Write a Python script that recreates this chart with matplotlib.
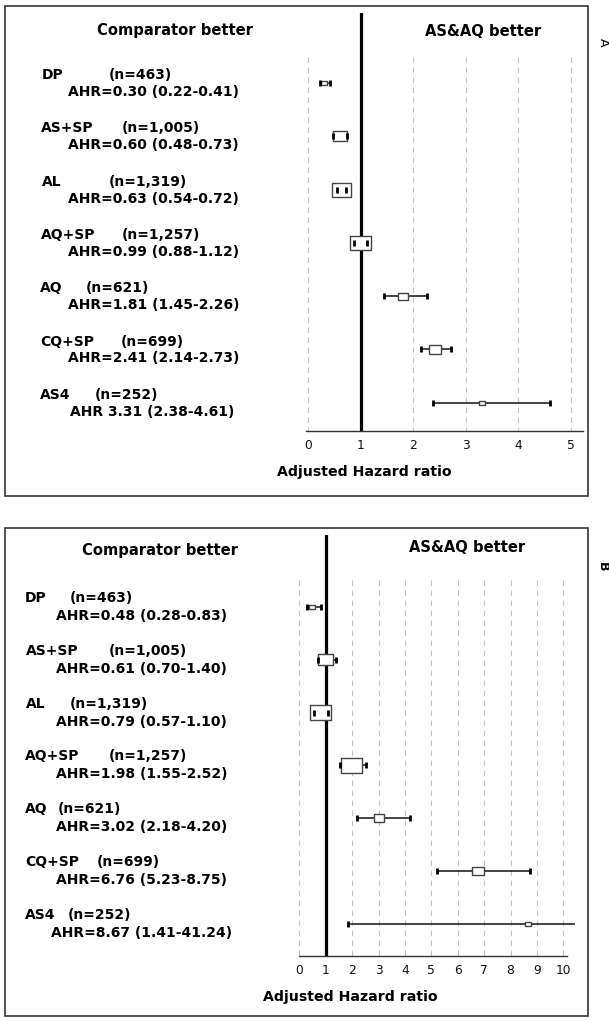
import matplotlib
matplotlib.use("Agg")
import matplotlib.pyplot as plt
from matplotlib.path import Path
from matplotlib.patches import Rectangle

# ---- data -------------------------------------------------------------
drugs = ["DP", "AS+SP", "AL", "AQ+SP", "AQ", "CQ+SP", "AS4"]
n_labels = ["(n=463)", "(n=1,005)", "(n=1,319)", "(n=1,257)", "(n=621)", "(n=699)", "(n=252)"]

ahr_a = ["AHR=0.30 (0.22-0.41)", "AHR=0.60 (0.48-0.73)", "AHR=0.63 (0.54-0.72)",
         "AHR=0.99 (0.88-1.12)", "AHR=1.81 (1.45-2.26)", "AHR=2.41 (2.14-2.73)",
         "AHR 3.31 (2.38-4.61)"]
est_a = [0.30, 0.60, 0.63, 0.99, 1.81, 2.41, 3.31]
lo_a = [0.22, 0.48, 0.54, 0.88, 1.45, 2.14, 2.38]
hi_a = [0.41, 0.73, 0.72, 1.12, 2.26, 2.73, 4.61]
weight_a = [4.3, 10, 14, 14.7, 7.3, 8.3, 4.3]   # box size (weight)

ahr_b = ["AHR=0.48 (0.28-0.83)", "AHR=0.61 (0.70-1.40)", "AHR=0.79 (0.57-1.10)",
         "AHR=1.98 (1.55-2.52)", "AHR=3.02 (2.18-4.20)", "AHR=6.76 (5.23-8.75)",
         "AHR=8.67 (1.41-41.24)"]
est_b = [0.48, 1.00, 0.79, 1.98, 3.02, 6.76, 8.67]
lo_b = [0.28, 0.70, 0.57, 1.55, 2.18, 5.23, 1.83]
hi_b = [0.83, 1.40, 1.10, 2.52, 4.20, 8.75, 41.24]
weight_b = [4, 11, 15, 15, 7.7, 8.3, 4]

ticks_a = [0, 1, 2, 3, 4, 5]
ticks_b = [0, 1, 2, 3, 4, 5, 6, 7, 8, 9, 10]

# ---- layout -----------------------------------------------------------
W, H = 609, 1021
fig = plt.figure(figsize=(W / 100, H / 100), dpi=100)
plt.rcParams['font.family'] = ['DejaVu Sans']


def fx(x):
    return x / W


def fy(y):
    return 1 - y / H


box_path = Path([(-0.7, -0.5), (0.7, -0.5), (0.7, 0.5), (-0.7, 0.5), (-0.7, -0.5)],
                 [Path.MOVETO, Path.LINETO, Path.LINETO, Path.LINETO, Path.CLOSEPOLY])


def panel(est, lo, hi, weight, ahr, ticks, L):
    ax = fig.add_axes([fx(L['left']), fy(L['bot']),
                       (L['right'] - L['left']) / W, (L['bot'] - L['top']) / H])
    ax.set_facecolor('none')
    ax.set_xlim((L['left'] - L['x0']) / L['unit'], (L['right'] - L['x0']) / L['unit'])
    ybot = (L['bot'] - L['row0']) / L['step']
    ytop = (L['top'] - L['row0']) / L['step']
    ax.set_ylim(ybot, ytop)
    rows = list(range(len(est)))

    gtop = (L['grid_top'] - L['row0']) / L['step']
    ax.vlines(ticks, gtop, ybot, colors='#c4c4c4', lw=0.8,
              linestyles=(0, (5, 4)), zorder=1, clip_on=False)
    ax.axvline(1, color='black', lw=2.3, zorder=2.5)

    ax.hlines(rows, lo, hi, colors='#111111', lw=1.1, zorder=2)
    sizes = [(1.4 * w * 0.72) ** 2 for w in weight]
    ax.scatter(est, rows, s=sizes, marker=box_path, facecolor='white',
               edgecolor='#444444', linewidths=1.0, zorder=3)
    ax.plot(lo, rows, ls='none', marker='|', ms=3.8, mew=2.0, color='black', zorder=4)
    ax.plot(hi, rows, ls='none', marker='|', ms=3.8, mew=2.0, color='black', zorder=4)

    for s in ['top', 'left', 'right']:
        ax.spines[s].set_visible(False)
    ax.spines['bottom'].set_bounds(*L['spine'])
    ax.spines['bottom'].set_color('#333333')
    ax.spines['bottom'].set_linewidth(1.0)
    ax.set_yticks([])
    ax.set_xticks(ticks)
    ax.tick_params(axis='x', length=0, pad=6, labelsize=8.8, labelcolor='#111111')

    for i in rows:
        yc = L['row0'] + L['step'] * i
        fig.text(fx(L['name_x'][i]), fy(yc + L['dy_name']), drugs[i],
                 fontsize=10, fontweight='bold', va='center', ha='left')
        fig.text(fx(L['n_x'][i]), fy(yc + L['dy_name']), n_labels[i],
                 fontsize=10, fontweight='bold', va='center', ha='left')
        fig.text(fx(L['ahr_x'][i]), fy(yc + L['dy_ahr']), ahr[i],
                 fontsize=10, fontweight='bold', va='center', ha='left')

    fig.text(fx(L['h1'][0]), fy(L['h1'][1]), "Comparator better", fontsize=10.6,
             fontweight='bold', ha='center', va='center')
    fig.text(fx(L['h2'][0]), fy(L['h2'][1]), "AS&AQ better", fontsize=10.6,
             fontweight='bold', ha='center', va='center')
    fig.text(fx(L['xl'][0]), fy(L['xl'][1]), "Adjusted Hazard ratio", fontsize=10.2,
             fontweight='bold', ha='center', va='center')
    fig.text(fx(L['tag'][0]), fy(L['tag'][1]), L['tag_text'], fontsize=9,
             fontweight=L['tag_w'], rotation=-90, ha='center', va='center')
    fr = L['frame']
    fig.add_artist(Rectangle((fx(fr[0]), fy(fr[3])), (fr[2] - fr[0]) / W, (fr[3] - fr[1]) / H,
                             transform=fig.transFigure, fill=False, ec='#333333', lw=1.2))
    return ax


layout_a = dict(left=306, right=583, top=13, bot=431, x0=308.3, unit=52.45,
                row0=83, step=53.3, grid_top=57, spine=(-0.04, 5.24),
                name_x=[42, 41, 42, 41, 40, 40, 40],
                n_x=[109, 122, 109, 122, 86, 121, 95],
                ahr_x=[68, 68, 68, 68, 68, 68, 70],
                dy_name=-8, dy_ahr=9,
                h1=(175, 30), h2=(483, 31), xl=(364, 472),
                tag=(603, 42), tag_text="A", tag_w='normal',
                frame=(5, 6, 588, 496))

layout_b = dict(left=299.3, right=575, top=535, bot=955.5, x0=299.3, unit=26.4,
                row0=607, step=52.8, grid_top=580, spine=(0, 10.15),
                name_x=[25, 26, 26, 25, 25, 25, 25],
                n_x=[70, 109, 70, 109, 58, 97, 68],
                ahr_x=[56, 56, 56, 56, 56, 56, 51],
                dy_name=-9, dy_ahr=9,
                h1=(160, 551), h2=(467, 547), xl=(350, 997),
                tag=(602, 567), tag_text="B", tag_w='bold',
                frame=(5, 528, 588, 1016))

panel(est_a, lo_a, hi_a, weight_a, ahr_a, ticks_a, layout_a)
panel(est_b, lo_b, hi_b, weight_b, ahr_b, ticks_b, layout_b)

fig.savefig("out.png", dpi=100)
